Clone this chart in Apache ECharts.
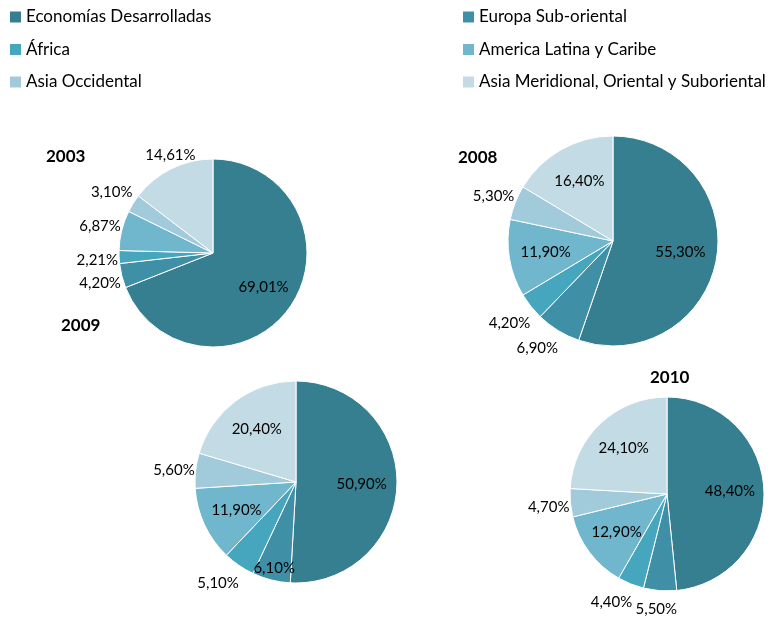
<!DOCTYPE html>
<html>
<head>
<meta charset="utf-8">
<script src="https://cdn.jsdelivr.net/npm/echarts@6/dist/echarts.min.js"></script>
<style>
  html, body { margin: 0; padding: 0; background: #fff; }
  #chart { width: 774px; height: 622px; }
</style>
</head>
<body>
<div id="chart"></div>
<script>
// categorias (orden horario desde las 12)
const categories = [
  'Economías Desarrolladas',
  'Europa Sub-oriental',
  'África',
  'America Latina y Caribe',
  'Asia Occidental',
  'Asia Meridional, Oriental y Suboriental'
];
const years = ['2003', '2008', '2009', '2010'];

// porcentajes por año
const v2003 = [69.01, 4.20, 2.21, 6.87, 3.10, 14.61];
const v2008 = [55.30, 6.90, 4.20, 11.90, 5.30, 16.40];
const v2009 = [50.90, 6.10, 5.10, 11.90, 5.60, 20.40];
const v2010 = [48.40, 5.50, 4.40, 12.90, 4.70, 24.10];

const colors = ['#367f91', '#3f90a7', '#46a6be', '#70b6cc', '#a1cadb', '#c2dbe4'];
const font = 'Lato';

// donde va cada etiqueta: in = dentro, out = fuera, edge = en el borde, top = encima del borde
const pies = [
  { values: v2003, center: [213, 253], radius: 94,  labelPos: ['in', 'out', 'out', 'out', 'out', 'top'], title: [46, 147] },
  { values: v2008, center: [613, 241], radius: 105, labelPos: ['in', 'out', 'out', 'in', 'out', 'in'],   title: [458, 148] },
  { values: v2009, center: [296, 482], radius: 101, labelPos: ['in', 'edge', 'out', 'in', 'out', 'in'],  title: [61, 316] },
  { values: v2010, center: [667, 494], radius: 97,  labelPos: ['in', 'out', 'out', 'in', 'out', 'in'],   title: [650, 368] }
];

const clamp = v => Math.max(-1, Math.min(1, v));

// coloca la etiqueta pegada al borde del sector, como lo hace Excel
function placeLabel(pie) {
  return function (params) {
    const pts = params.labelLinePoints;
    if (!pts) return {};
    const cx = pie.center[0], cy = pie.center[1];
    const px = pts[0][0], py = pts[0][1];
    let dx = px - cx, dy = py - cy;
    const len = Math.sqrt(dx * dx + dy * dy) || 1;
    dx /= len; dy /= len;
    const w2 = params.labelRect.width / 2 - 1;
    const h2 = params.labelRect.height / 2 + 6.5;
    const mode = pie.labelPos[params.dataIndex];
    let x, y;
    if (mode === 'out') {
      x = px + dx * 2 + w2 * clamp(2.5 * dx);
      y = py + dy * 2 + h2 * clamp(1.6 * dy) + 2;
    } else if (mode === 'top') {
      x = px + dx * 2;
      y = py + dy * 2 - h2 + 2;
    } else {
      const t = pie.radius * (mode === 'edge' ? 0.88 : 0.65);
      x = cx + dx * t;
      y = cy + dy * t;
    }
    return { x: x, y: y, align: 'center', verticalAlign: 'middle' };
  };
}

const chart = echarts.init(document.getElementById('chart'), null, { renderer: 'canvas' });

const legendBase = {
  orient: 'vertical',
  top: 7,
  padding: 0,
  itemWidth: 11,
  itemHeight: 11,
  itemGap: 12.5,
  icon: 'rect',
  selectedMode: false,
  itemStyle: { borderWidth: 0 },
  textStyle: { fontFamily: font, fontSize: 17, color: '#000', lineHeight: 20 }
};

const option = {
  backgroundColor: '#fff',
  animation: false,
  color: colors,
  title: pies.map((p, i) => ({
    text: years[i],
    left: p.title[0],
    top: p.title[1],
    padding: 0,
    textStyle: { fontFamily: font, fontSize: 17, fontWeight: 'bold', color: '#000', lineHeight: 20 }
  })),
  legend: [
    Object.assign({}, legendBase, { left: 10, data: [categories[0], categories[2], categories[4]] }),
    Object.assign({}, legendBase, { left: 463, data: [categories[1], categories[3], categories[5]] })
  ],
  series: pies.map((p, i) => ({
    name: years[i],
    type: 'pie',
    center: p.center,
    radius: p.radius,
    startAngle: 90,
    clockwise: true,
    avoidLabelOverlap: false,
    silent: true,
    emphasis: { disabled: true },
    itemStyle: { borderColor: '#fff', borderWidth: 1 },
    label: {
      show: true,
      position: 'outside',
      fontFamily: font,
      fontSize: 15,
      color: '#000',
      formatter: d => d.value.toFixed(2).replace('.', ',') + '%'
    },
    labelLine: { show: true, length: 10, length2: 1, lineStyle: { opacity: 0 } },
    labelLayout: placeLabel(p),
    data: categories.map((name, k) => ({ name: name, value: p.values[k] }))
  }))
};

chart.setOption(option);
</script>
</body>
</html>
